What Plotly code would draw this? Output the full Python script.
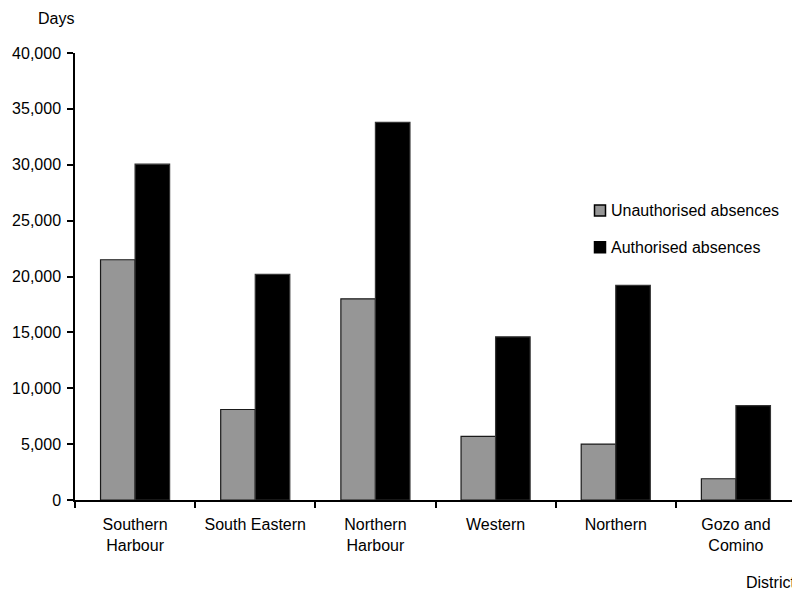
import plotly.graph_objects as go

districts = ["Southern<br>Harbour", "South Eastern", "Northern<br>Harbour", "Western", "Northern", "Gozo and<br>Comino"]
unauthorised = [21500, 8100, 18000, 5700, 5000, 1900]
authorised = [30050, 20200, 33800, 14600, 19200, 8450]
y_ticks = [0, 5000, 10000, 15000, 20000, 25000, 30000, 35000, 40000]
series_names = ["Unauthorised absences", "Authorised absences"]
series_fill = ["#969696", "#000000"]
series_edge = ["#1a1a1a", "#333333"]

FONT = "Liberation Sans, Arial, sans-serif"

# The page body has an 8px margin, so the figure starts at (8, 8) in the window.
OFF = 8
W, H = 800 - OFF, 591 - OFF
# plot area in window pixels: x 75..796, y 53..500
L, T = 75 - OFF, 53 - OFF
R = W - (796 - OFF)
B = H - (500 - OFF)
PW, PH = W - L - R, H - T - B


def px_x(px):
    return (px - OFF - L) / PW


def px_y(py):
    return (H - B - (py - OFF)) / PH


fig = go.Figure()
for vals, name, fill, edge in zip([unauthorised, authorised], series_names, series_fill, series_edge):
    fig.add_trace(go.Bar(
        x=districts, y=vals, name=name,
        marker=dict(color=fill, line=dict(color=edge, width=1.2)),
        showlegend=False,
    ))

# manual legend (compact spacing as in the reference)
shapes = []
annotations = []
legend_rows = [210.5, 247.3]
for row_y, name, fill in zip(legend_rows, series_names, series_fill):
    shapes.append(dict(
        type="rect", xref="paper", yref="paper",
        x0=px_x(594.5), x1=px_x(605.5), y0=px_y(row_y - 5.5), y1=px_y(row_y + 5.5),
        fillcolor=fill, line=dict(color="black", width=1.5),
    ))
    annotations.append(dict(
        text=name, xref="paper", yref="paper", x=px_x(609), y=px_y(row_y),
        xanchor="left", yanchor="middle", showarrow=False, font=dict(size=16),
    ))

annotations += [
    dict(text="Days", xref="paper", yref="paper", x=px_x(55.5), y=px_y(19),
         xanchor="center", yanchor="middle", showarrow=False, font=dict(size=16)),
    dict(text="District", xref="paper", yref="paper", x=px_x(797), y=px_y(582),
         xanchor="right", yanchor="middle", showarrow=False, font=dict(size=16)),
]

fig.update_layout(
    width=W, height=H,
    margin=dict(l=L, r=R, t=T, b=B),
    paper_bgcolor="white", plot_bgcolor="white",
    barmode="group", bargap=0.425, bargroupgap=0,
    font=dict(family=FONT, size=16, color="black"),
    showlegend=False,
    xaxis=dict(
        type="category", range=[-0.5, 5.5], automargin=False,
        showline=True, linecolor="black", linewidth=1.5,
        ticks="outside", ticklen=6, tickwidth=1.5, tickcolor="black",
        tickson="boundaries", showgrid=False, zeroline=False,
        tickfont=dict(size=16), ticklabelstandoff=9,
    ),
    yaxis=dict(
        range=[0, 40000], tickvals=y_ticks, tickformat=",d", automargin=False,
        showline=True, linecolor="black", linewidth=1.5,
        ticks="outside", ticklen=6, tickwidth=1.5, tickcolor="black",
        showgrid=False, zeroline=False,
        tickfont=dict(size=16), ticklabelstandoff=3,
    ),
    shapes=shapes,
    annotations=annotations,
)

fig.write_html("out.html")
